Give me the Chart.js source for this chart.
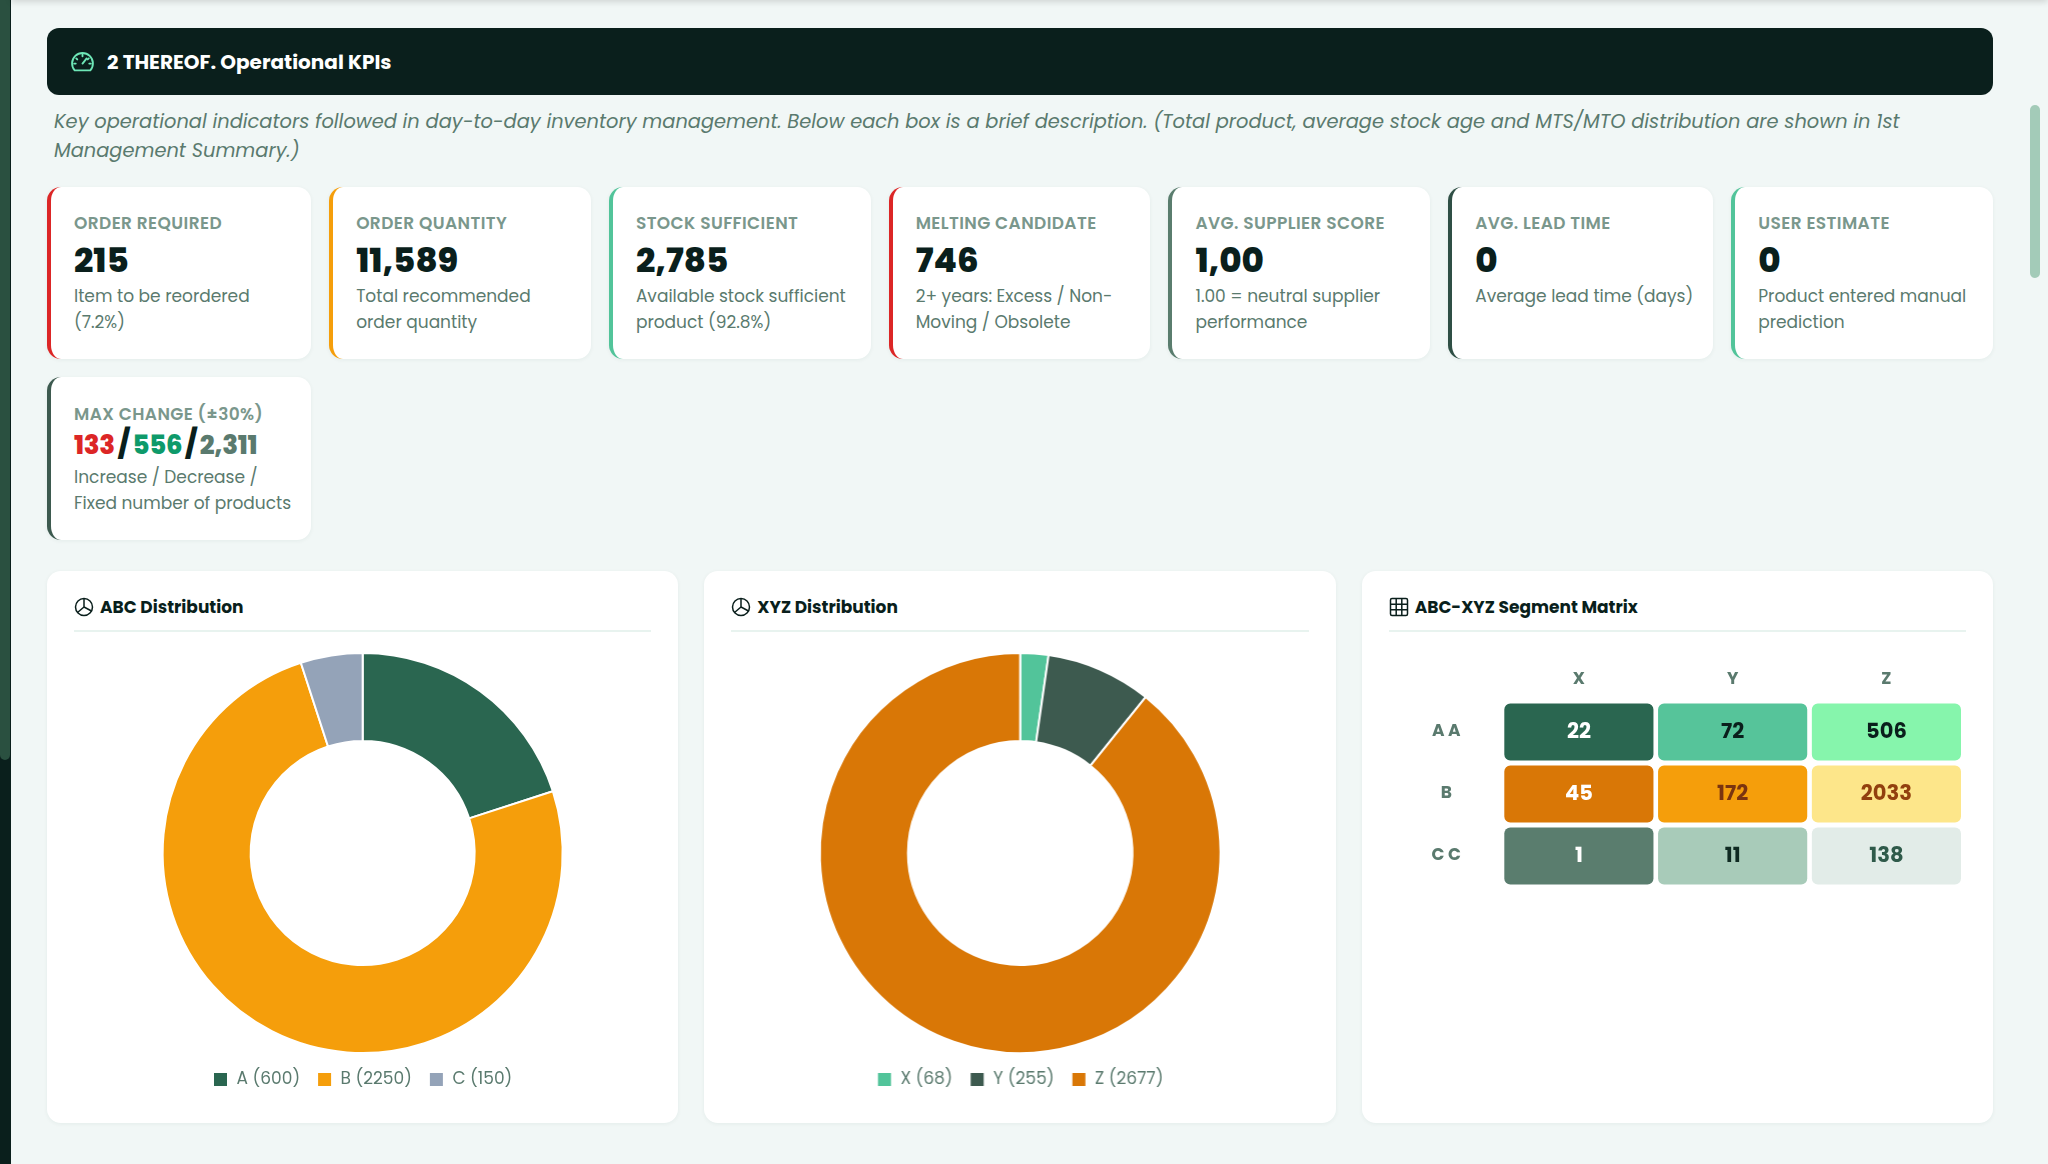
<!DOCTYPE html>
<html>
<head>
<meta charset="utf-8">
<script src="https://cdn.jsdelivr.net/npm/chart.js@4.4.1/dist/chart.umd.min.js"></script>
<style>
  * { box-sizing: border-box; }
  html, body { margin: 0; padding: 0; }
  body {
    width: 2048px; height: 1164px; overflow: hidden; position: relative;
    background: #f1f7f6; font-family: Poppins, Inter, sans-serif; color: #0a1f1c;
  }
  .side { position: absolute; left: 0; top: 0; width: 11px; height: 1164px; background: #0a1f1c; }
  .side .thumb { position: absolute; left: 0; top: 0; width: 10px; height: 760px; background: #2a5040; border-radius: 0 0 5px 5px; }
  .topshade { position: absolute; left: 11px; right: 0; top: -10px; height: 10px; box-shadow: 0 2px 6px rgba(0,0,0,.14); }
  .scroll { position: absolute; left: 2030px; top: 105px; width: 10px; height: 173px; background: #a3cbb8; border-radius: 5px; }
  .main { position: absolute; left: 47px; top: 28px; width: 1946px; }
  .head {
    height: 67px; background: #0a1f1c; border-radius: 12px; display: flex; align-items: center;
    padding-left: 23px; color: #fff; font-size: 20px; font-weight: 700;
  }
  .head svg { margin-right: 12px; }
  .sub {
    margin: 12px 0 0 7px; font-size: 19.4px; line-height: 29px; font-style: italic; color: #5a7a6e;
    white-space: nowrap;
  }
  .row { display: grid; grid-template-columns: repeat(7, 1fr); column-gap: 18px; row-gap: 18px; margin-top: 22px; }
  .card {
    background: #fff; border-radius: 14px; border-left: 4px solid #ccc; height: 172px;
    padding: 25px 20px 0 23px; box-shadow: 0 1px 4px rgba(20,60,50,.06);
  }
  .card.small { height: 163px; padding-top: 26px; }
  .lbl { font-size: 17px; line-height: 22px; font-weight: 600; letter-spacing: .4px; color: #7a978c; white-space: nowrap; }
  .val { font-size: 34px; line-height: 40px; font-weight: 800; margin-top: 6px; color: #0a1f1c; }
  .desc { font-size: 17px; line-height: 26px; margin-top: 3px; color: #5a7a6e; white-space: nowrap; }
  .multi { font-size: 26px; line-height: 32px; font-weight: 800; margin-top: 4px; letter-spacing: -.3px; }
  .multi .r { color: #dc2626; } .multi .g { color: #0e9a6a; } .multi .n { color: #5a7a6e; }
  .multi .s { color: #0a1f1c; margin: 0 3px; font-size: 28px; }
  .panels { display: grid; grid-template-columns: repeat(3, 1fr); column-gap: 26px; margin-top: 31px; }
  .panel {
    background: #fff; border-radius: 14px; height: 552px; padding: 24px 27px 0 27px;
    box-shadow: 0 1px 4px rgba(20,60,50,.06);
  }
  .ptitle {
    display: flex; align-items: center; font-size: 17px; line-height: 24px; font-weight: 700;
    padding-bottom: 11px; border-bottom: 2px solid #e8f3ef;
  }
  .ptitle svg { margin-right: 6px; }
  .box { position: relative; margin-top: 20px; height: 446px; }
  .box.mx { margin-top: 13px; height: 245px; }
</style>
</head>
<body>
<div class="side"><div class="thumb"></div></div>
<div class="topshade"></div>
<div class="scroll"></div>

<div class="main">
  <div class="head">
    <svg width="25" height="23" viewBox="0 0 24 22" fill="none" stroke="#6ee7b7" stroke-width="1.8" stroke-linecap="round">
      <path d="M4.5 19.5 A10 10 0 1 1 19.5 19.5 Z"/>
      <path d="M12 13 L16 8"/>
      <path d="M12 4.5 v1.5 M6 8 l1 1 M18 8 l-1 1 M4 13 h1.5 M20 13 h-1.5"/>
    </svg>
    2 THEREOF. Operational KPIs
  </div>
  <div class="sub">Key operational indicators followed in day-to-day inventory management. Below each box is a brief description. (Total product, average stock age and MTS/MTO distribution are shown in 1st<br>Management Summary.)</div>

  <div class="row">
    <div class="card" style="border-left-color:#dc2626">
      <div class="lbl">ORDER REQUIRED</div>
      <div class="val">215</div>
      <div class="desc">Item to be reordered<br>(7.2%)</div>
    </div>
    <div class="card" style="border-left-color:#f59e0b">
      <div class="lbl">ORDER QUANTITY</div>
      <div class="val">11,589</div>
      <div class="desc">Total recommended<br>order quantity</div>
    </div>
    <div class="card" style="border-left-color:#52c49a">
      <div class="lbl">STOCK SUFFICIENT</div>
      <div class="val">2,785</div>
      <div class="desc">Available stock sufficient<br>product (92.8%)</div>
    </div>
    <div class="card" style="border-left-color:#dc2626">
      <div class="lbl">MELTING CANDIDATE</div>
      <div class="val">746</div>
      <div class="desc">2+ years: Excess / Non-<br>Moving / Obsolete</div>
    </div>
    <div class="card" style="border-left-color:#5a7d6e">
      <div class="lbl">AVG. SUPPLIER SCORE</div>
      <div class="val">1,00</div>
      <div class="desc">1.00 = neutral supplier<br>performance</div>
    </div>
    <div class="card" style="border-left-color:#2f4f45">
      <div class="lbl">AVG. LEAD TIME</div>
      <div class="val">0</div>
      <div class="desc">Average lead time (days)</div>
    </div>
    <div class="card" style="border-left-color:#52c49a">
      <div class="lbl">USER ESTIMATE</div>
      <div class="val">0</div>
      <div class="desc">Product entered manual<br>prediction</div>
    </div>
    <div class="card small" style="border-left-color:#3d5a4f">
      <div class="lbl">MAX CHANGE (±30%)</div>
      <div class="multi"><span class="r">133</span><span class="s">/</span><span class="g">556</span><span class="s">/</span><span class="n">2,311</span></div>
      <div class="desc">Increase / Decrease /<br>Fixed number of products</div>
    </div>
  </div>

  <div class="panels">
    <div class="panel">
      <div class="ptitle">
        <svg width="20" height="20" viewBox="0 0 20 20" fill="none" stroke="#0a1f1c" stroke-width="1.5"><circle cx="10" cy="10" r="8.5"/><path d="M10 1.5 V10 L17.5 14 M10 10 L3.5 15.5"/></svg>
        ABC Distribution
      </div>
      <div class="box"><canvas id="abcChart"></canvas></div>
    </div>
    <div class="panel">
      <div class="ptitle">
        <svg width="20" height="20" viewBox="0 0 20 20" fill="none" stroke="#0a1f1c" stroke-width="1.5"><circle cx="10" cy="10" r="8.5"/><path d="M10 1.5 V10 L17.5 14 M10 10 L3.5 15.5"/></svg>
        XYZ Distribution
      </div>
      <div class="box"><canvas id="xyzChart"></canvas></div>
    </div>
    <div class="panel">
      <div class="ptitle">
        <svg width="20" height="20" viewBox="0 0 20 20" fill="none" stroke="#0a1f1c" stroke-width="1.5"><rect x="1.5" y="1.5" width="17" height="17" rx="1.5"/><path d="M7.2 1.5 V18.5 M12.8 1.5 V18.5 M1.5 7.2 H18.5 M1.5 12.8 H18.5"/></svg>
        ABC-XYZ Segment Matrix
      </div>
      <div class="box mx"><canvas id="matrixChart"></canvas></div>
    </div>
  </div>
</div>

<script>
/* ========= DATA ========= */
const abcLabels = ["A", "B", "C"];
const abcValues = [600, 2250, 150];
const abcColors = ["#2a6650", "#f59e0b", "#94a3b8"];

const xyzLabels = ["X", "Y", "Z"];
const xyzValues = [68, 255, 2677];
const xyzColors = ["#52c49a", "#3d5a4f", "#d97706"];

const matrixRows = ["A A", "B", "C C"];
const matrixCols = ["X", "Y", "Z"];
const colX = [22, 45, 1];
const colY = [72, 172, 11];
const colZ = [506, 2033, 138];

const cellColors = [
  ["#2a6650", "#d97706", "#5a7d6e"],
  ["#56c49a", "#f59e0b", "#a8cbb9"],
  ["#86f5ac", "#fde68a", "#e2ece8"]
];
const cellText = [
  ["#ffffff", "#ffffff", "#ffffff"],
  ["#0a1f1c", "#7a3410", "#0f2a22"],
  ["#0a1f1c", "#92400e", "#2f5a4a"]
];

/* ========= DEFAULTS ========= */
Chart.defaults.font.family = "Poppins, Inter, sans-serif";
Chart.defaults.color = "#5a7a6e";
Chart.defaults.animation = false;

/* ========= DONUTS ========= */
function donut(id, labels, values, colors) {
  new Chart(document.getElementById(id), {
    type: "doughnut",
    data: {
      labels: labels.map((l, i) => `${l} (${values[i]})`),
      datasets: [{
        data: values,
        backgroundColor: colors,
        borderColor: "#fff",
        borderWidth: 2
      }]
    },
    options: {
      responsive: true,
      maintainAspectRatio: false,
      cutout: "56%",
      plugins: {
        tooltip: { enabled: false },
        legend: {
          position: "bottom",
          labels: {
            boxWidth: 15,
            boxHeight: 15,
            padding: 17,
            color: "#5a7a6e",
            font: { size: 17 }
          }
        }
      }
    }
  });
}

donut("abcChart", abcLabels, abcValues, abcColors);
donut("xyzChart", xyzLabels, xyzValues, xyzColors);

/* ========= MATRIX ========= */
const gap = 0.015;
const cellLabels = {
  id: "cellLabels",
  afterDatasetsDraw(chart) {
    const ctx = chart.ctx;
    ctx.save();
    ctx.font = "700 21px Poppins, Inter, sans-serif";
    ctx.textAlign = "center";
    ctx.textBaseline = "middle";
    chart.data.datasets.forEach((ds, c) => {
      chart.getDatasetMeta(c).data.forEach((el, r) => {
        const p = el.getCenterPoint();
        ctx.fillStyle = cellText[c][r];
        ctx.fillText(String(ds.values[r]), p.x, p.y + 1);
      });
    });
    ctx.restore();
  }
};

const matrixValues = [colX, colY, colZ];

new Chart(document.getElementById("matrixChart"), {
  type: "bar",
  data: {
    labels: matrixRows,
    datasets: matrixCols.map((col, c) => ({
      label: col,
      values: matrixValues[c],
      data: matrixValues[c].map(() => [c + gap, c + 1 - gap]),
      backgroundColor: cellColors[c],
      borderRadius: 6,
      borderSkipped: false,
      grouped: false,
      barPercentage: 0.92,
      categoryPercentage: 1
    }))
  },
  options: {
    indexAxis: "y",
    responsive: true,
    maintainAspectRatio: false,
    layout: { padding: { right: 3, bottom: 3 } },
    plugins: { legend: { display: false }, tooltip: { enabled: false } },
    scales: {
      x: {
        position: "top",
        min: 0,
        max: 3,
        grid: { display: false },
        border: { display: false },
        afterBuildTicks: s => { s.ticks = matrixCols.map((_, i) => ({ value: i + 0.5 })); },
        afterFit: s => { s.height = 56; },
        ticks: {
          padding: 3,
          color: "#5a7a6e",
          font: { size: 17, weight: "700" },
          callback: v => matrixCols[Math.floor(v)]
        }
      },
      y: {
        grid: { display: false },
        border: { display: false },
        afterFit: s => { s.width = 113; s.paddingTop = 0; s.paddingBottom = 0; },
        ticks: {
          crossAlign: "center",
          padding: 33,
          color: "#5a7a6e",
          font: { size: 17, weight: "700" }
        }
      }
    }
  },
  plugins: [cellLabels]
});
</script>
</body>
</html>
